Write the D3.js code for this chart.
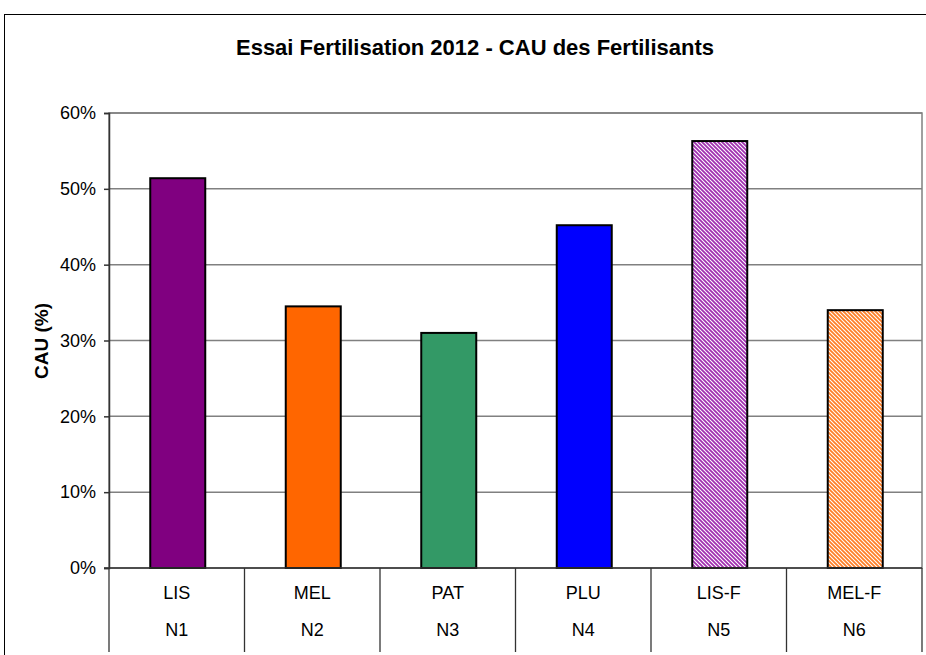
<!DOCTYPE html>
<html><head><meta charset="utf-8">
<script src="https://cdn.jsdelivr.net/npm/d3@7"></script>
<style>body{margin:0;background:#fff;} svg{display:block;font-family:Arial,"Liberation Sans",sans-serif;}</style>
</head><body>
<script>
const categories = ["LIS","MEL","PAT","PLU","LIS-F","MEL-F"];
const groups = ["N1","N2","N3","N4","N5","N6"];
const values = [0.514,0.345,0.310,0.452,0.563,0.340];
const colors = ["#800080","#FF6600","#339966","#0000FF","#A030B0","#FF7F27"];
const patterned = [false,false,false,false,true,true];
const yTicks = [0,0.1,0.2,0.3,0.4,0.5,0.6];
const title = "Essai Fertilisation 2012 - CAU des Fertilisants";
const yLabel = "CAU (%)";

const W=926,H=655;
const svg=d3.select("body").append("svg").attr("width",W).attr("height",H);
const defs=svg.append("defs");
categories.forEach((c,i)=>{
  if(!patterned[i]) return;
  const p=defs.append("pattern").attr("id","pat"+i).attr("patternUnits","userSpaceOnUse")
    .attr("width",4).attr("height",4);
  p.append("rect").attr("width",4).attr("height",4).attr("fill","#fff");
  p.append("path").attr("d","M-1,-1 L5,5 M-1,3 L1,5 M3,-1 L5,1").attr("stroke",colors[i]).attr("stroke-width",1.8);
});

// outer chart border
svg.append("rect").attr("x",4.5).attr("y",14.5).attr("width",940).attr("height",700)
  .attr("fill","#fff").attr("stroke","#000").attr("stroke-width",1);

const L=109,R=922,T=113,B=568;
const x=d3.scaleBand().domain(categories).range([L,R]).paddingInner(0).paddingOuter(0);
const y=d3.scaleLinear().domain([0,0.6]).range([B,T]);

// plot area border
svg.append("rect").attr("x",L).attr("y",T).attr("width",R-L).attr("height",B-T)
  .attr("fill","#fff").attr("stroke","#808080").attr("stroke-width",1.5);

// gridlines
svg.append("g").selectAll("line").data(yTicks.slice(1)).join("line")
  .attr("x1",L).attr("x2",R).attr("y1",d=>y(d)).attr("y2",d=>y(d))
  .attr("stroke","#808080").attr("stroke-width",1.5);

// bars
const bw=55;
svg.append("g").selectAll("rect").data(categories).join("rect")
  .attr("x",(d,i)=>x(d)+x.bandwidth()/2-bw/2+1)
  .attr("y",(d,i)=>y(values[i]))
  .attr("width",bw)
  .attr("height",(d,i)=>B-y(values[i]))
  .attr("fill",(d,i)=>patterned[i]?`url(#pat${i})`:colors[i])
  .attr("stroke","#000").attr("stroke-width",2);

// y axis
const yAxis=d3.axisLeft(y).tickValues(yTicks).tickFormat(d3.format(".0%")).tickSize(5).tickPadding(8);
const ga=svg.append("g").attr("transform",`translate(${L},0)`).call(yAxis);
ga.select(".domain").attr("stroke","#333").attr("stroke-width",1.5);
ga.selectAll(".tick line").attr("stroke","#333").attr("stroke-width",1.5);
ga.selectAll("text").attr("font-size",18).attr("fill","#000").attr("font-family","Arial, 'Liberation Sans', sans-serif");

// x axis line
svg.append("line").attr("x1",L-5).attr("x2",R).attr("y1",B).attr("y2",B).attr("stroke","#333").attr("stroke-width",1.5);
// category separators (multi-level)
const seps=categories.map(c=>x(c)).concat([R]);
svg.append("g").selectAll("line").data(seps).join("line")
  .attr("x1",d=>d).attr("x2",d=>d).attr("y1",B).attr("y2",652)
  .attr("stroke","#333").attr("stroke-width",1.3);

svg.append("g").selectAll("text").data(categories).join("text")
  .attr("x",d=>x(d)+x.bandwidth()/2).attr("y",599).attr("text-anchor","middle")
  .attr("font-size",18).text(d=>d);
svg.append("g").selectAll("text").data(groups).join("text")
  .attr("x",(d,i)=>x(categories[i])+x.bandwidth()/2).attr("y",636).attr("text-anchor","middle")
  .attr("font-size",18).text(d=>d);

// title
svg.append("text").attr("x",475).attr("y",55).attr("text-anchor","middle")
  .attr("font-size",22).attr("font-weight","bold").text(title);
// y label
svg.append("text").attr("transform",`translate(48,341) rotate(-90)`).attr("text-anchor","middle")
  .attr("font-size",19).attr("font-weight","bold").text(yLabel);
</script>
</body></html>
